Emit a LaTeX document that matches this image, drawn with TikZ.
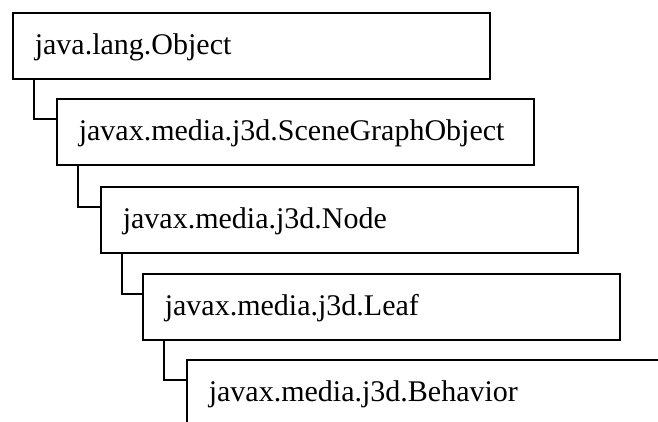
\documentclass[tikz,border=0pt]{standalone}
\usepackage{fontspec}
\setmainfont{Liberation Serif}
\usetikzlibrary{positioning}

\begin{document}
\begin{tikzpicture}[x=1pt,y=1pt,
    classbox/.style={draw,line width=1.6pt,anchor=north west,inner xsep=22pt,inner ysep=0pt,
      text width=433pt,align=left,text height=42pt,text depth=24pt,font=\fontsize{30}{30}\selectfont},
    link/.style={line width=1.6pt}]
    \useasboundingbox (0,0) rectangle (658,-422);
    \node[classbox] (obj) at (12,-12) {java.lang.Object};
    \node[classbox] (sgo) at (56,-98) {javax.media.j3d.SceneGraphObject};
    \node[classbox] (node) at (100,-186) {javax.media.j3d.Node};
    \node[classbox] (leaf) at (142,-273) {javax.media.j3d.Leaf};
    \node[classbox] (beh) at (186,-359) {javax.media.j3d.Behavior};
    \draw[link] ([xshift=22pt]obj.south west) |- ([yshift=-21pt]sgo.north west);
    \draw[link] ([xshift=22pt]sgo.south west) |- ([yshift=-21pt]node.north west);
    \draw[link] ([xshift=22pt]node.south west) |- ([yshift=-21pt]leaf.north west);
    \draw[link] ([xshift=22pt]leaf.south west) |- ([yshift=-21pt]beh.north west);
  \end{tikzpicture}
\end{document}
